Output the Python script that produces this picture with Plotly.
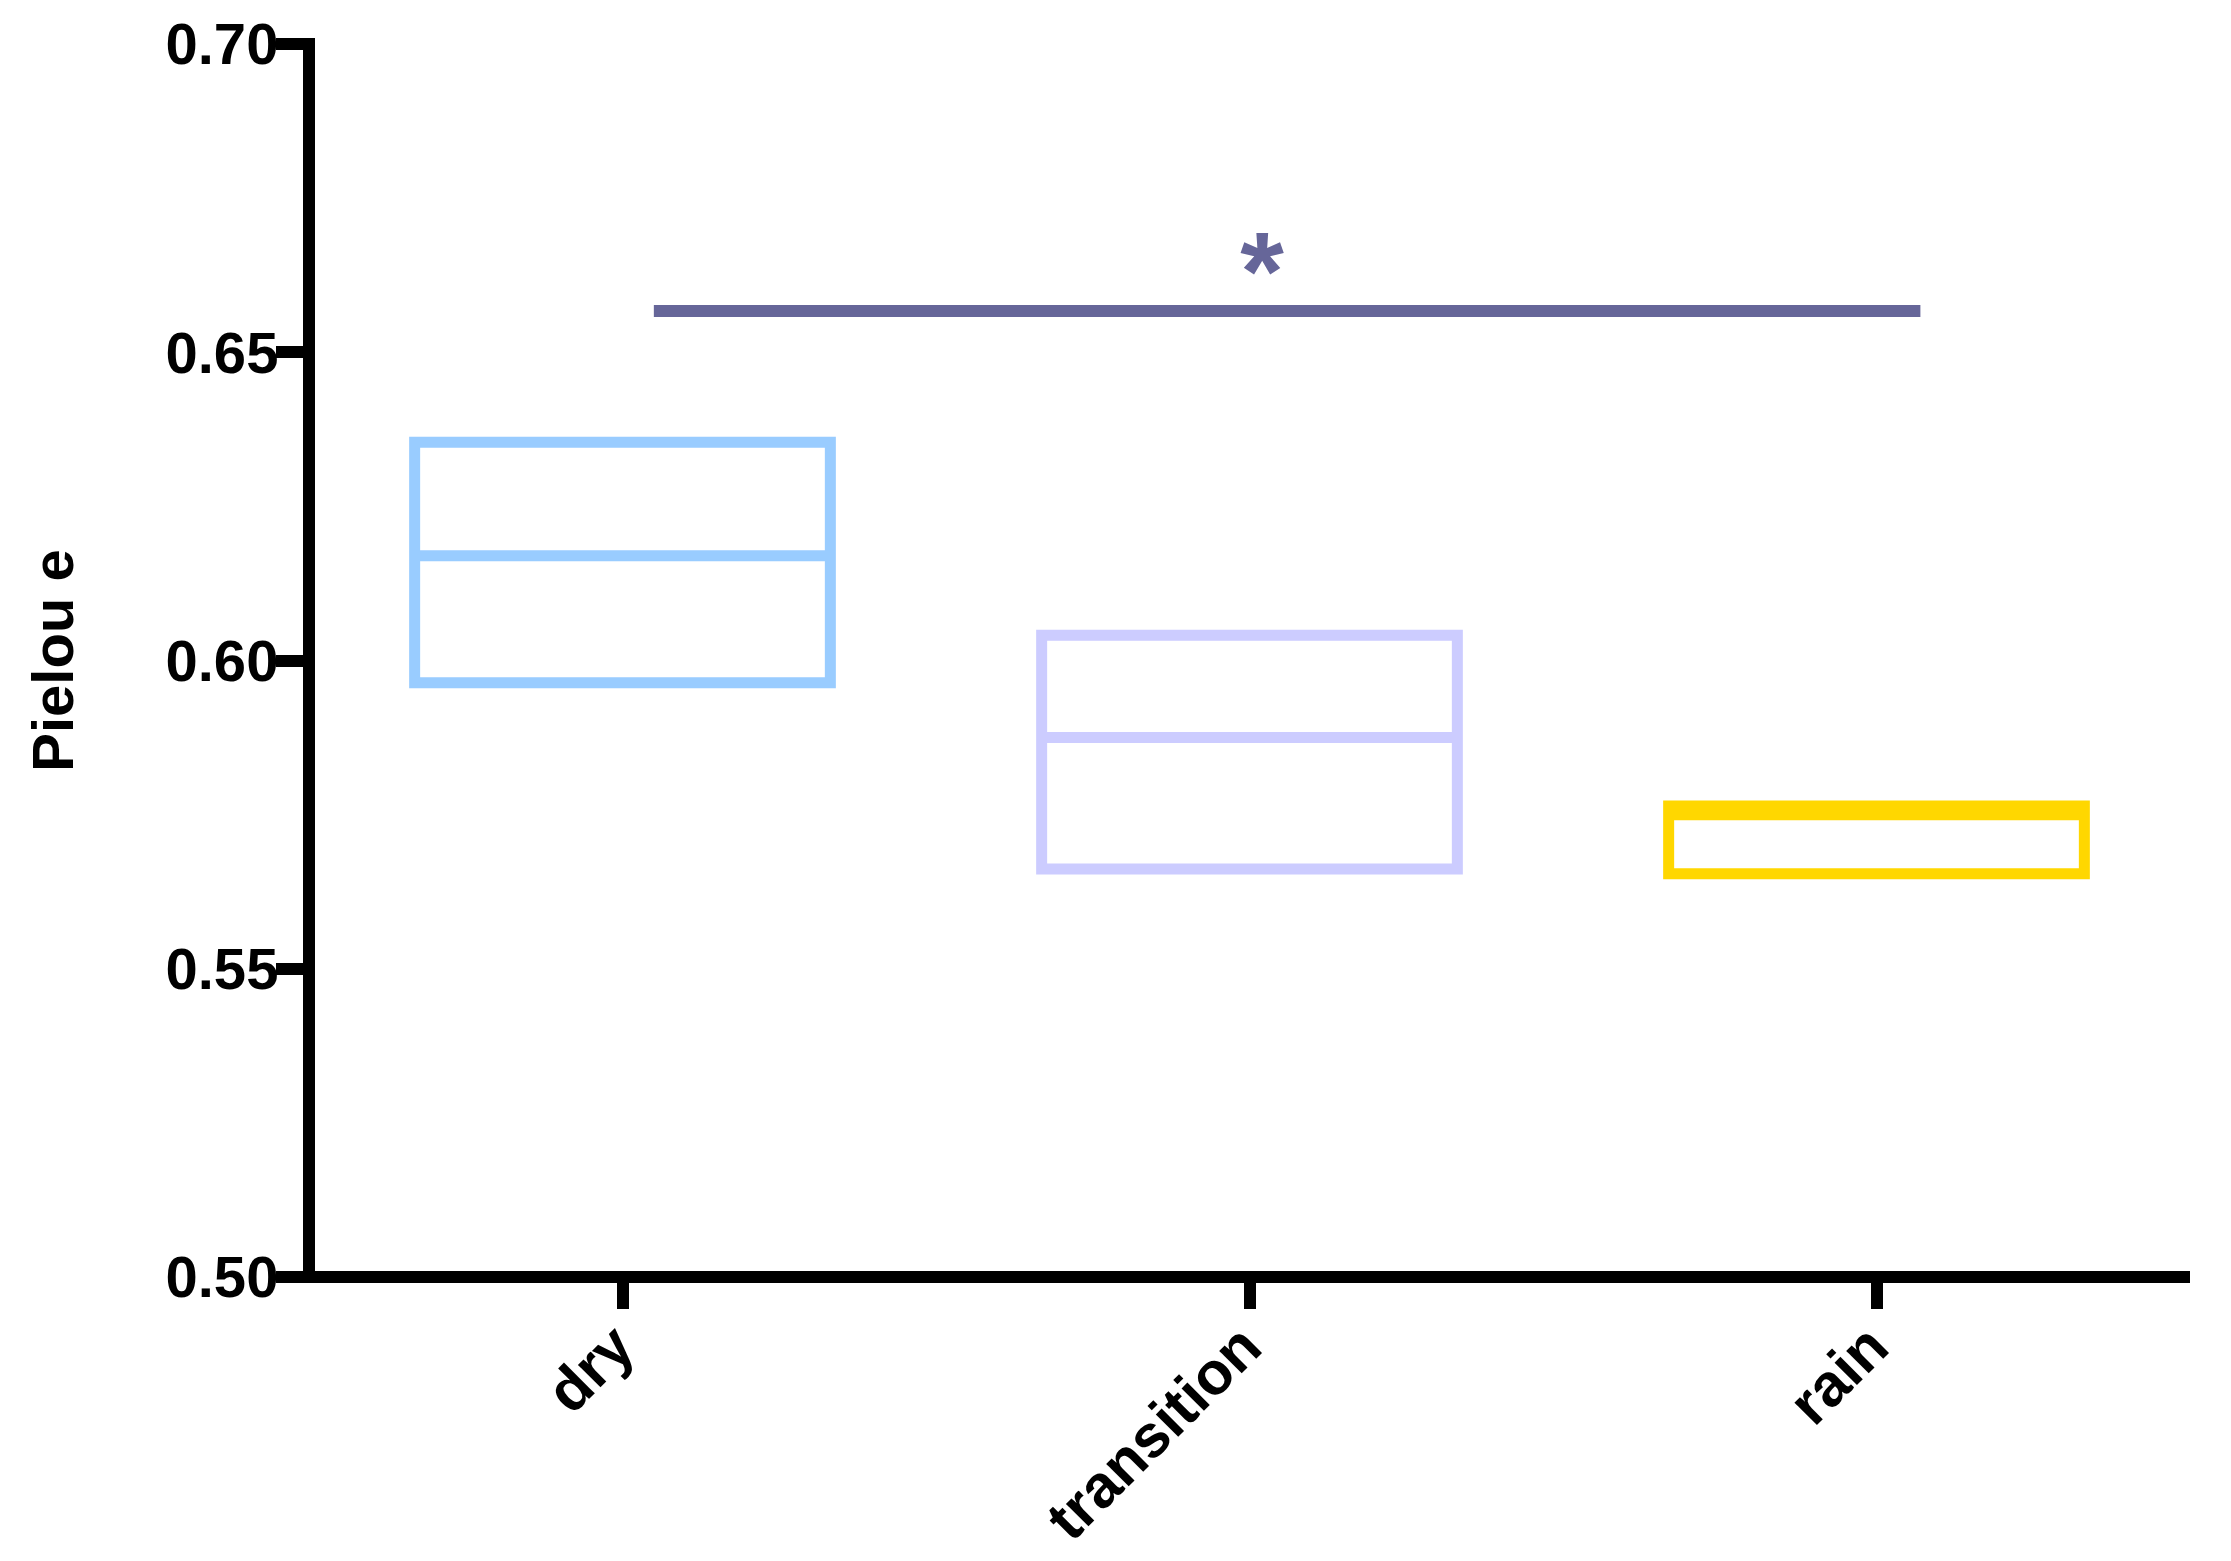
import plotly.graph_objects as go

categories = ["dry", "transition", "rain"]
positions = [0, 1, 2]
q1 = [0.5964, 0.5662, 0.5654]
median = [0.6170, 0.5875, 0.5750]
q3 = [0.6354, 0.6041, 0.5764]
colors = ["#99CCFF", "#CCCCFF", "#FFD700"]

sig_x = [0.05, 2.07]
sig_y = [0.6567, 0.6567]
sig_star_x = 1.02
sig_star_y = 0.6614
sig_color = "#666699"

y_ticks = [0.50, 0.55, 0.60, 0.65, 0.70]
y_ticktext = ["0.50", "0.55", "0.60", "0.65", "0.70"]

FONT = "Liberation Sans, Arial, Helvetica, sans-serif"

# page body has an 8px margin: shrink the figure so the plot lands exactly
BODY = 8
W, H = 2231 - BODY, 1561 - BODY
ML, MR, MT, MB = 309 - BODY, 41, 44 - BODY, 284
PW, PH = W - ML - MR, H - MT - MB
LW = 12

fig = go.Figure()
for i, cat in enumerate(categories):
    fig.add_trace(go.Box(
        x=[positions[i]], q1=[q1[i]], median=[median[i]], q3=[q3[i]],
        lowerfence=[q1[i]], upperfence=[q3[i]],
        width=0.663, whiskerwidth=0, boxpoints=False,
        line=dict(color=colors[i], width=11),
        fillcolor="rgba(0,0,0,0)", name=cat, showlegend=False,
        hoverinfo="skip",
    ))

fig.add_trace(go.Scatter(
    x=sig_x, y=sig_y, mode="lines",
    line=dict(color=sig_color, width=12), showlegend=False, hoverinfo="skip",
))
fig.add_trace(go.Scatter(
    x=[sig_star_x], y=[sig_star_y], mode="text", text=["*"],
    textfont=dict(family=FONT, size=112, color=sig_color, weight="bold"),
    textposition="middle center", showlegend=False, hoverinfo="skip",
))

# axis lines centred on the plot-area edges
fig.add_shape(type="line", xref="paper", yref="paper",
              x0=-LW / 2 / PW, x1=1, y0=0, y1=0,
              line=dict(color="black", width=LW), layer="above")
fig.add_shape(type="line", xref="paper", yref="paper",
              x0=0, x1=0, y0=0, y1=1 + LW / 2 / PH,
              line=dict(color="black", width=LW), layer="above")

fig.update_layout(
    width=W, height=H,
    margin=dict(l=ML, r=MR, t=MT, b=MB, pad=0),
    plot_bgcolor="white", paper_bgcolor="white",
    font=dict(family=FONT, color="black"),
    xaxis=dict(
        range=[-0.5, 2.5], tickvals=positions, ticktext=categories,
        tickangle=-45, showgrid=False, zeroline=False, automargin=False,
        showline=False,
        ticks="outside", ticklen=31, tickwidth=12, tickcolor="black",
        ticklabelstandoff=-22, ticklabelshift=-6,
        tickfont=dict(family=FONT, size=60, color="black", weight="bold"),
    ),
    yaxis=dict(
        range=[0.5, 0.7], tickvals=y_ticks, ticktext=y_ticktext,
        showgrid=False, zeroline=False, automargin=False,
        showline=False,
        ticks="outside", ticklen=32, tickwidth=12, tickcolor="black",
        ticklabelstandoff=-14,
        tickfont=dict(family=FONT, size=58, color="black", weight="bold"),
        title=dict(text="Pielou e", standoff=73,
                   font=dict(family=FONT, size=58, color="black", weight="bold")),
    ),
)

fig.write_html("out.html")
